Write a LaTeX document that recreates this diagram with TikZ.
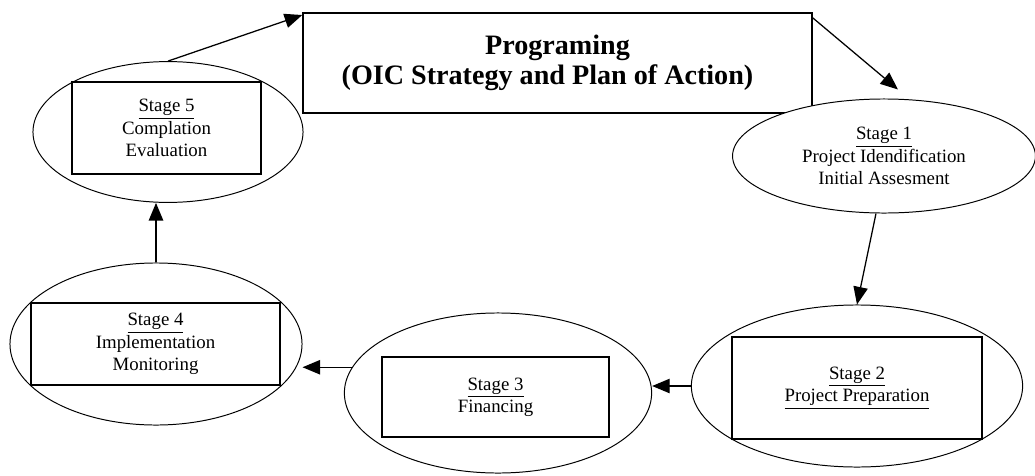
\documentclass[tikz,border=0pt]{standalone}
\usepackage{fontspec}
\setmainfont{Liberation Serif}
\usetikzlibrary{arrows.meta,calc,shapes.geometric}

\begin{document}
\begin{tikzpicture}
	[
		x=0.025cm, y=-0.025cm,
		Arrow/.style={draw, line width=0.9pt, -{Triangle[length=4.4mm,width=3.6mm]}}
	]
	
	\tikzstyle{Oval} = [
		ellipse, 
		draw=black, 
		line width=0.7pt,
		fill=white,
		inner sep=0pt
	]
	\tikzstyle{Box} = [
		rectangle, 
		draw=black, 
		line width=1.1pt,
		fill=white,
		align=center,
		text centered,
		inner sep=0pt,
		font=\fontsize{13.4}{15.8}\selectfont
	]
	
	\useasboundingbox (0,0) rectangle (1035,475);
	
	% main box
	\node [Box, minimum width=12.72cm, minimum height=2.5cm,
		font=\fontsize{20}{21.5}\selectfont\bfseries] (prog) at (557.5,63)
		{Programing\\(OIC Strategy and Plan of Action)\hspace*{0.5cm}};
	
	% stages
	\node [Oval, minimum width=7.57cm, minimum height=2.85cm, align=center,
		font=\fontsize{13.4}{15.8}\selectfont] (s1) at (884,156)
		{\underline{Stage 1}\\Project Idendification\\Initial Assesment};
	
	\node [Oval, minimum width=8.28cm, minimum height=4.05cm] (s2) at (857,386) {};
	\node [Box, minimum width=6.25cm, minimum height=2.55cm] (b2) at (857,388)
		{\underline{Stage 2}\\\underline{Project Preparation}};
	
	\node [Oval, minimum width=7.68cm, minimum height=4.0cm] (s3) at (498,393) {};
	\node [Box, minimum width=5.68cm, minimum height=2.0cm] (b3) at (495.5,397)
		{\underline{Stage 3}\\Financing};
	
	\node [Oval, minimum width=7.3cm, minimum height=4.05cm] (s4) at (156,344) {};
	\node [Box, minimum width=6.22cm, minimum height=2.05cm] (b4) at (155.5,344)
		{\underline{Stage 4}\\Implementation\\Monitoring};
	
	\node [Oval, minimum width=6.75cm, minimum height=3.52cm] (s5) at (168,132) {};
	\node [Box, minimum width=4.72cm, minimum height=2.3cm] (b5) at (166.5,128)
		{\underline{Stage 5}\\Complation\\Evaluation};
	
	% cycle
	\draw [Arrow] ([yshift=-4pt]prog.north east) -- ($(s1.north)+(14,-9)$);
	\draw [Arrow] ($(s1.south)+(-8,0)$) -- (s2.north);
	\draw [Arrow] (s2.west) -- (s2.west -| s3.east);
	\draw [Arrow] (s3.170) -- (s3.170 -| s4.east);
	\draw [Arrow] (s4.north) -- (s4.north |- s5.south);
	\draw [Arrow] (s5.north) -- ([yshift=-2pt]prog.north west);
\end{tikzpicture}
\end{document}
